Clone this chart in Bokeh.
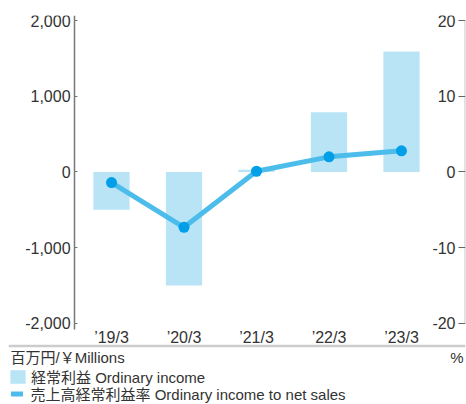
from bokeh.plotting import figure
from bokeh.models import (Range1d, LinearAxis, FixedTicker, NumeralTickFormatter,
                          ColumnDataSource, Legend, LegendItem, Label, Span)
from bokeh.embed import file_html
from bokeh.resources import INLINE

# ---- data ----
categories = ["’19/3", "’20/3", "’21/3", "’22/3", "’23/3"]
ordinary_income = [-500, -1500, 30, 790, 1590]       # 百万円 / ¥ Millions
income_ratio = [-1.4, -7.3, 0.1, 2.0, 2.8]            # %
left_ticks = [-2000, -1000, 0, 1000, 2000]
right_ticks = [-20, -10, 0, 10, 20]
unit_left = "百万円/￥Millions"
unit_right = "%"
legend_bar = "経常利益 Ordinary income"
legend_line = "売上高経常利益率 Ordinary income to net sales"

# ---- style ----
FONT = "Liberation Sans, Noto Sans CJK JP"
TEXT = "#333333"
BAR = "#B9E4F6"
LINE = "#4CBDEB"
MARK = "#009FE8"

xs = list(range(len(categories)))
src = ColumnDataSource(dict(x=xs, income=ordinary_income, ratio=income_ratio))

# layout constants (plot-space positions of frame edges / decorations)
X_START, X_END = -1.421, len(categories) - 1 + 0.883
LEFT_AXIS_X = -0.51
Y_START, Y_END = -3071, 2067
Y_AXIS_LOW = -2080
Y_RULE = -2299

p = figure(width=466, height=404,
           x_range=Range1d(X_START, X_END), y_range=Range1d(Y_START, Y_END),
           output_backend="svg", toolbar_location=None,
           x_axis_type=None, y_axis_type=None,
           min_border_left=8, min_border_right=1, min_border_top=15, min_border_bottom=0)
p.extra_y_ranges = {"pct": Range1d(Y_START / 100, Y_END / 100)}
p.outline_line_color = None
p.background_fill_color = "white"
p.border_fill_color = "white"

bars = p.vbar(x="x", top="income", bottom=0, width=0.5, source=src,
              fill_color=BAR, line_color=None)
line = p.line(x="x", y="ratio", source=src, y_range_name="pct",
              line_color=LINE, line_width=5, line_cap="round", line_join="round")
p.scatter(x="x", y="ratio", source=src, y_range_name="pct", size=11,
          fill_color=MARK, line_color=None)

# right axis rule (drawn separately)
p.segment(x0=[X_END], y0=[right_ticks[0]], x1=[X_END], y1=[right_ticks[-1]],
          y_range_name="pct", line_color="#c8c8c8", line_width=2)

p.add_layout(Span(location=Y_RULE, dimension="width", line_color="#cccccc", line_width=2.5))

common = dict(major_label_text_font=FONT, major_label_text_font_size="16px",
              major_label_text_color=TEXT, minor_tick_line_color=None)

yl = LinearAxis(fixed_location=LEFT_AXIS_X, ticker=FixedTicker(ticks=left_ticks),
                formatter=NumeralTickFormatter(format="0,0"), bounds=(Y_AXIS_LOW, Y_END),
                axis_line_color="#777777", axis_line_width=1.5,
                major_tick_in=3, major_tick_out=0, major_tick_line_color="#777777",
                major_label_standoff=4, **common)
p.add_layout(yl, "left")

yr = LinearAxis(y_range_name="pct", fixed_location=X_END, ticker=FixedTicker(ticks=right_ticks),
                formatter=NumeralTickFormatter(format="0"),
                axis_line_color=None,
                major_tick_in=0, major_tick_out=7, major_tick_line_color="#666666",
                major_label_standoff=3, **common)
p.add_layout(yr, "left")

xa = LinearAxis(fixed_location=Y_AXIS_LOW, ticker=FixedTicker(ticks=xs),
                major_label_overrides={i: c for i, c in enumerate(categories)},
                axis_line_color=None, major_tick_line_color=None,
                major_tick_in=0, major_tick_out=0, major_label_standoff=0, **common)
p.add_layout(xa, "below")

lab_kw = dict(x_units="screen", y_units="screen", text_font=FONT,
              text_font_size="15px", text_color=TEXT, text_baseline="middle")
p.add_layout(Label(x=2, y=47, text=unit_left, text_align="left", **lab_kw))
p.add_layout(Label(x=455, y=47, text=unit_right, text_align="right", **lab_kw))

leg_kw = dict(padding=0, margin=0, border_line_color=None, background_fill_alpha=0,
              label_text_font=FONT, label_text_font_size="15px",
              label_text_color=TEXT, glyph_height=17, label_height=17)
leg1 = Legend(items=[LegendItem(label=legend_bar, renderers=[bars])],
              location=(0, 17.5), glyph_width=19, label_standoff=4, **leg_kw)
leg2 = Legend(items=[LegendItem(label=legend_line, renderers=[line])],
              location=(2.5, 0.5), glyph_width=12, label_standoff=8, **leg_kw)
p.add_layout(leg1)
p.add_layout(leg2)

open("out.html", "w").write(file_html(p, INLINE))
